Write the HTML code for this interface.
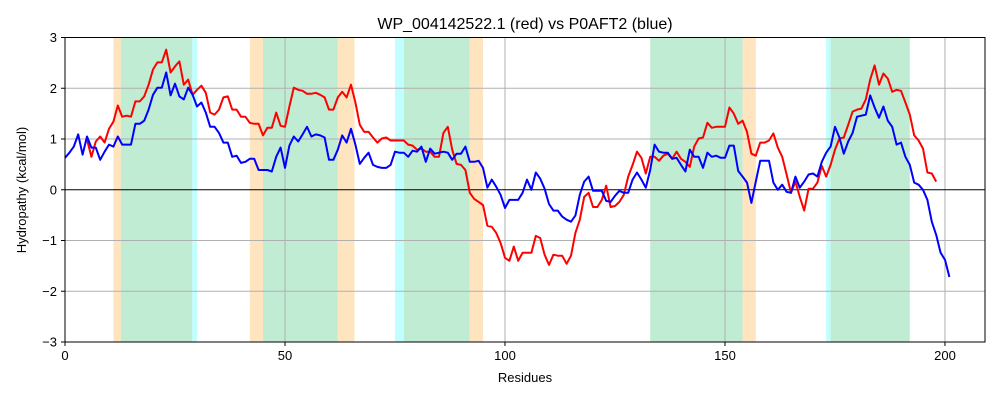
<!DOCTYPE html>
<html><head><meta charset="utf-8"><style>
html,body{margin:0;padding:0;background:#fff;}
svg{display:block;font-family:"Liberation Sans","DejaVu Sans",sans-serif;}
</style></head><body>
<svg id="chart" width="1000" height="400" viewBox="0 0 1000 400">
<text x="525" y="29" font-size="16" text-anchor="middle">WP_004142522.1 (red) vs P0AFT2 (blue)</text>
<g id="spans"></g><g id="grid"></g><g id="series"></g><g id="axes"></g>
<text x="525" y="382" font-size="13" text-anchor="middle">Residues</text>
<text x="26" y="190" font-size="13" text-anchor="middle" transform="rotate(-90 26 190)">Hydropathy (kcal/mol)</text>
</svg>
<script>
const blueValues=[0.63,0.73,0.85,1.09,0.69,1.05,0.83,0.83,0.59,0.75,0.89,0.85,1.05,0.89,0.89,0.89,1.30,1.30,1.36,1.58,1.87,2.01,2.01,2.31,1.86,2.09,1.84,1.78,2.01,1.87,1.64,1.72,1.52,1.24,1.24,1.12,0.93,0.93,0.65,0.67,0.53,0.55,0.61,0.61,0.39,0.39,0.39,0.36,0.65,0.83,0.43,0.87,1.05,0.95,1.09,1.24,1.05,1.09,1.07,1.03,0.59,0.59,0.79,1.07,0.93,1.20,0.89,0.51,0.63,0.73,0.49,0.45,
0.43,0.43,0.49,0.75,0.73,0.73,0.65,0.77,0.75,0.85,0.55,0.81,0.71,0.73,0.75,0.73,0.59,0.71,0.71,0.85,0.55,0.55,0.57,0.43,0.04,0.20,0.06,-0.10,-0.36,-0.20,-0.20,-0.20,-0.06,0.20,0,0.34,0.22,0.02,-0.28,-0.41,-0.41,-0.53,-0.59,-0.63,-0.51,-0.10,0.16,0.26,-0.02,-0.02,-0.02,-0.22,-0.24,-0.12,-0.02,-0.06,-0.06,0.20,0.34,0.20,0.04,0.39,0.89,0.75,0.73,0.73,
0.61,0.63,0.49,0.36,0.79,0.65,0.65,0.43,0.73,0.65,0.67,0.63,0.63,0.87,0.87,0.37,0.26,0.14,-0.26,0.16,0.57,0.57,0.57,0.14,0,0.10,-0.04,-0.06,0.26,0.04,0.16,0.30,0.32,0.26,0.55,0.73,0.85,1.24,1.03,0.71,0.95,1.12,1.44,1.46,1.48,1.86,1.62,1.42,1.64,1.36,1.24,0.89,0.93,0.65,0.49,0.14,0.10,0,-0.20,-0.63,-0.89,-1.24,-1.38,-1.72];
const blueStart=0;
const redValues=[0.99,0.65,0.95,1.05,0.93,1.20,1.34,1.66,1.44,1.46,1.44,1.74,1.74,1.84,2.07,2.37,2.51,2.51,2.76,2.31,2.43,2.53,2.07,2.17,1.87,1.97,2.05,1.91,1.52,1.48,1.58,1.82,1.84,1.58,1.58,1.44,1.44,1.32,1.30,1.30,1.07,1.22,1.22,1.52,1.26,1.24,1.64,2.01,1.97,1.95,1.89,1.89,1.91,1.87,1.82,1.58,1.58,1.82,1.93,1.82,2.07,1.72,1.28,1.14,1.14,1.03,0.93,
1.01,1.03,0.97,0.97,0.97,0.97,0.89,0.87,0.79,0.81,0.75,0.75,0.65,0.65,1.12,1.24,0.79,0.51,0.49,0.39,-0.06,-0.18,-0.24,-0.30,-0.71,-0.73,-0.85,-1.05,-1.34,-1.40,-1.12,-1.40,-1.24,-1.24,-1.24,-0.91,-0.95,-1.28,-1.48,-1.28,-1.30,-1.30,-1.46,-1.30,-0.85,-0.59,-0.14,-0.06,-0.34,-0.34,-0.20,0.08,-0.34,-0.32,-0.24,-0.10,0.26,0.49,0.75,0.63,0.32,0.65,0.65,0.57,0.67,0.71,
0.61,0.75,0.61,0.55,0.45,0.85,1.01,1.03,1.32,1.22,1.24,1.24,1.24,1.62,1.50,1.30,1.36,1.14,0.71,0.67,0.93,0.93,0.97,1.11,0.83,0.65,0.30,-0.06,0.16,-0.14,-0.41,0.02,0.02,0.14,0.47,0.26,0.49,0.79,1.01,1.03,1.28,1.54,1.58,1.60,1.78,2.17,2.45,2.07,2.29,2.19,1.93,1.97,1.95,1.72,1.48,1.07,0.97,0.81,0.34,0.32,0.16];
const redStart=5;
const spanStarts=[11,28.9,42,62,75,92,154,173,12.7,45,77,133,174];
const spanEnds=[12.9,30,45,65.8,77,95,157,174,28.9,62,92,154,192];
const spanKinds=["o","c","o","o","c","o","o","c","g","g","g","g","g"];
const xTicks=[0,50,100,150,200];
const yTicks=[-3,-2,-1,0,1,2,3];
const NS="http://www.w3.org/2000/svg";
const L=65,R=985,T=37.5,B=342;
const X0=0,X1=209.1,Y0=-3,Y1=3;
function sx(v){return L+(v-X0)/(X1-X0)*(R-L);}
function sy(v){return B-(v-Y0)/(Y1-Y0)*(B-T);}
function mk(tag,attrs,parent){const e=document.createElementNS(NS,tag);for(const k in attrs)e.setAttribute(k,attrs[k]);parent.appendChild(e);return e;}
const colors={o:"#ffe4c0",c:"#c0ffff",g:"#c0ecd4"};
const gs=document.getElementById("spans");
spanStarts.forEach((s,i)=>{
 const r=mk("rect",{x:sx(s),y:T,width:sx(spanEnds[i])-sx(s),height:B-T,fill:colors[spanKinds[i]]},gs);
 
 
});
const gg=document.getElementById("grid");
xTicks.forEach(t=>{const l=mk("line",{x1:sx(t),x2:sx(t),y1:T,y2:B,stroke:"#b0b0b0","stroke-width":1},gg);
 
 });
yTicks.forEach(t=>{const l=mk("line",{x1:L,x2:R,y1:sy(t),y2:sy(t),stroke:t===0?"#000":"#b0b0b0","stroke-width":1},gg);
 
 });
const gser=document.getElementById("series");
function line(vals,start,color,name){
 const pts=vals.map((v,i)=>sx(start+i).toFixed(1)+","+sy(v).toFixed(1)).join(" ");
 const p=mk("polyline",{points:pts,fill:"none",stroke:color,"stroke-width":2,"stroke-linejoin":"round"},gser);
 
 
}
line(redValues,redStart,"#ff0000","red-series-line");
line(blueValues,blueStart,"#0000ff","blue-series-line");
const ga=document.getElementById("axes");
const fr=mk("rect",{x:L,y:T,width:R-L,height:B-T,fill:"none",stroke:"#000","stroke-width":1},ga);


xTicks.forEach(t=>{
 mk("line",{x1:sx(t),x2:sx(t),y1:B,y2:B+4,stroke:"#000"},ga);
 const tx=mk("text",{x:sx(t),y:B+18,"font-size":13,"text-anchor":"middle"},ga);
 tx.textContent=t;
 
 
});
yTicks.forEach(t=>{
 mk("line",{x1:L-4,x2:L,y1:sy(t),y2:sy(t),stroke:"#000"},ga);
 const tx=mk("text",{x:L-8,y:sy(t)+4.5,"font-size":13,"text-anchor":"end"},ga);
 tx.textContent=t<0?"\u2212"+(-t):t;
 
 
});
</script>
</body></html>
